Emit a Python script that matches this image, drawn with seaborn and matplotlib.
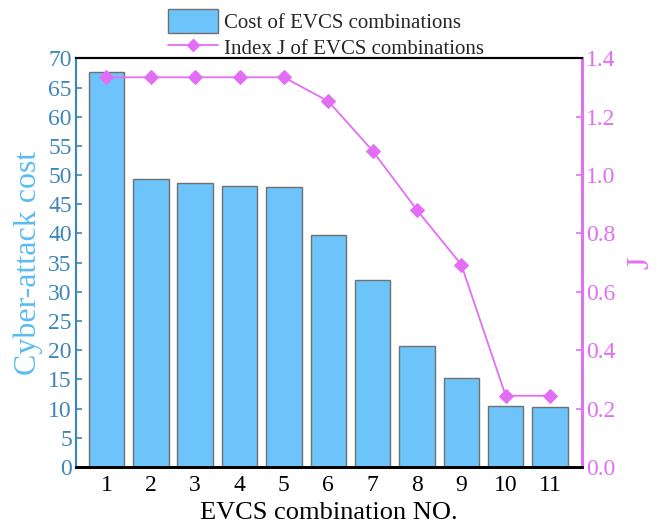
import matplotlib
matplotlib.use("Agg")
import matplotlib.pyplot as plt
from matplotlib.patches import Patch
from matplotlib.lines import Line2D
import seaborn as sns
import pandas as pd

combo_no = [1, 2, 3, 4, 5, 6, 7, 8, 9, 10, 11]
attack_cost = [67.6, 49.3, 48.6, 48.1, 47.9, 39.7, 32.1, 20.7, 15.2, 10.4, 10.2]
index_j = [1.335, 1.335, 1.335, 1.335, 1.335, 1.253, 1.083, 0.880, 0.693, 0.244, 0.244]

df = pd.DataFrame({"combo": combo_no, "cost": attack_cost, "J": index_j})

sns.set_theme(style="white")
plt.rcParams["font.family"] = ["Liberation Serif", "DejaVu Serif"]
plt.rcParams["mathtext.fontset"] = "stix"

bar_fill = "#6CC4FA"
bar_edge = "#707070"
cost_axis = "#3D87B8"
cost_label = "#5BBCF0"
j_color = "#E36EF5"

fig = plt.figure(figsize=(6.65, 5.25), dpi=100)
ax = fig.add_axes([0.1143, 0.1105, 0.7609, 0.7784])

sns.barplot(data=df, x="combo", y="cost", native_scale=True, width=0.8,
            color=bar_fill, edgecolor=bar_edge, linewidth=1.0,
            saturation=1, ax=ax, zorder=2)

ax2 = ax.twinx()
sns.lineplot(data=df, x="combo", y="J", ax=ax2, color=j_color, linewidth=1.3,
             marker="D", markersize=7, markeredgecolor=j_color, zorder=3)

ax.set_xlim(0.314, 11.72)
ax.set_ylim(0, 70)
ax2.set_ylim(0, 1.4)
ax.set_xticks(combo_no)
ax.set_xticklabels([str(c) for c in combo_no])
ax.set_yticks(range(0, 71, 5))
ax2.set_yticks([0.0, 0.2, 0.4, 0.6, 0.8, 1.0, 1.2, 1.4])
ax2.set_yticklabels(["0.0", "0.2", "0.4", "0.6", "0.8", "1.0", "1.2", "1.4"])

ax.set_xlabel("EVCS combination NO.", fontsize=19, color="black", labelpad=4)
ax.set_ylabel("Cyber-attack cost", fontsize=23, color=cost_label, labelpad=4)
ax2.set_ylabel("J", fontsize=23, color=j_color, labelpad=8)

ax.tick_params(axis="x", direction="in", length=4, width=1.2, colors="black",
               labelsize=17, pad=6)
ax.tick_params(axis="y", direction="in", length=4, width=1.2, colors=cost_axis,
               labelsize=17, pad=3)
ax2.tick_params(axis="y", direction="in", length=4, width=1.2, colors=j_color,
                labelsize=17, pad=3)
ax2.tick_params(axis="x", which="both", length=0)

for a in (ax, ax2):
    a.spines["top"].set_color("black")
    a.spines["top"].set_linewidth(1.5)
    a.spines["bottom"].set_color("black")
    a.spines["bottom"].set_linewidth(2.0)
    a.spines["left"].set_color(cost_axis)
    a.spines["left"].set_linewidth(1.5)
    a.spines["right"].set_color(j_color)
    a.spines["right"].set_linewidth(2.0)
ax.grid(False)
ax2.grid(False)

handles = [
    Patch(facecolor=bar_fill, edgecolor=bar_edge, linewidth=1.0),
    Line2D([0], [0], color=j_color, linewidth=1.3, marker="D", markersize=6,
           markeredgecolor=j_color),
]
labels = ["Cost of EVCS combinations", "Index J of EVCS combinations"]
fig.legend(handles, labels, loc="upper center", bbox_to_anchor=(0.49, 1.01),
           frameon=False, fontsize=15, handlelength=2.4, handleheight=1.4,
           labelspacing=0.1, handletextpad=0.3, borderpad=0.2)

fig.savefig("out.png", dpi=100)
